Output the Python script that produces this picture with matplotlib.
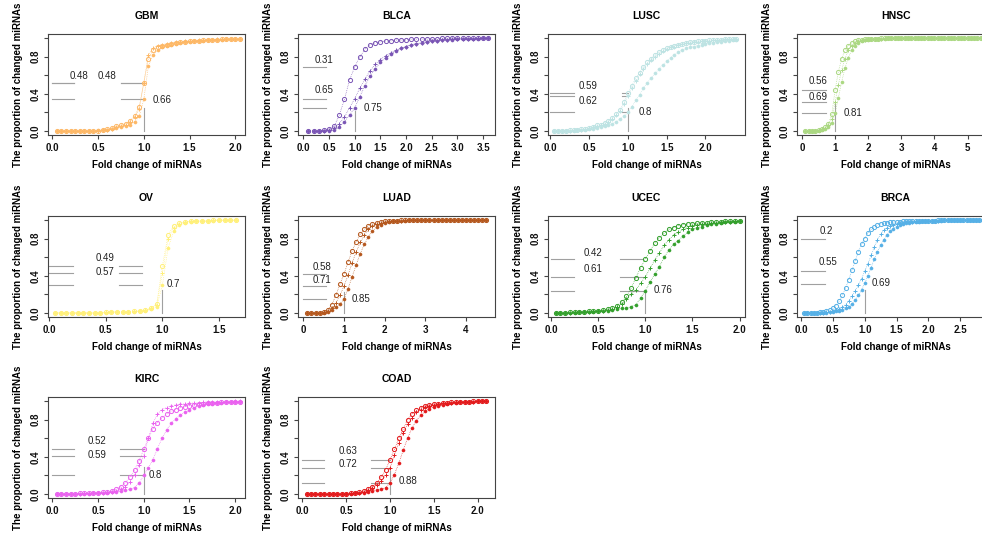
import numpy as np
import matplotlib.pyplot as plt

plt.rcParams['font.family'] = ['Liberation Sans', 'DejaVu Sans']

# cancer types, in reading order
panels = ["GBM", "BLCA", "LUSC", "HNSC", "OV", "LUAD", "UCEC", "BRCA", "KIRC", "COAD"]

# fold change grid of each panel
gbm_x = np.round(np.arange(0.05, 2.051, 0.05), 2)
blca_x = np.round(np.arange(0.1, 3.601, 0.1), 2)
lusc_x = np.round(np.arange(0.05, 2.401, 0.05), 2)
hnsc_x = np.round(np.arange(0.1, 5.601, 0.1), 2)
ov_x = np.round(np.arange(0.05, 1.651, 0.05), 2)
luad_x = np.round(np.arange(0.1, 4.501, 0.1), 2)
ucec_x = np.round(np.arange(0.05, 2.001, 0.05), 2)
brca_x = np.round(np.arange(0.05, 2.901, 0.05), 2)
kirc_x = np.round(np.arange(0.05, 2.051, 0.05), 2)
coad_x = np.round(np.arange(0.05, 2.101, 0.05), 2)

# proportion of changed miRNAs (three series per panel: circles, pluses, dots)
gbm_circle = [0, 0, 0, 0, 0, 0, 0, 0, 0, 0,
              0.01, 0.02, 0.03, 0.05, 0.06, 0.08, 0.11, 0.16, 0.26, 0.52,
              0.78, 0.87, 0.9, 0.92, 0.93, 0.94, 0.95, 0.96, 0.96, 0.97,
              0.97, 0.97, 0.98, 0.98, 0.98, 0.98, 0.99, 0.99, 0.99, 0.99, 0.99]
gbm_plus = [0, 0, 0, 0, 0, 0, 0, 0, 0, 0,
            0.01, 0.01, 0.02, 0.04, 0.05, 0.07, 0.1, 0.15, 0.24, 0.52,
            0.82, 0.89, 0.92, 0.93, 0.94, 0.95, 0.96, 0.96, 0.97, 0.97,
            0.97, 0.98, 0.98, 0.98, 0.98, 0.99, 0.99, 0.99, 0.99, 0.99, 0.99]
gbm_dot = [0, 0, 0, 0, 0, 0, 0, 0, 0, 0.01,
           0.01, 0.01, 0.02, 0.03, 0.04, 0.05, 0.07, 0.1, 0.16, 0.34,
           0.7, 0.82, 0.87, 0.9, 0.92, 0.93, 0.94, 0.95, 0.96, 0.96,
           0.97, 0.97, 0.97, 0.98, 0.98, 0.98, 0.98, 0.99, 0.99, 0.99, 0.99]

blca_circle = [0, 0, 0, 0.01, 0.02, 0.05, 0.17, 0.34, 0.55, 0.69,
               0.8, 0.88, 0.93, 0.95, 0.96, 0.97, 0.97, 0.98, 0.98, 0.98,
               0.99, 0.99, 0.99, 0.99, 0.99, 0.99, 1, 1, 1, 1,
               1, 1, 1, 1, 1, 1]
blca_plus = [0, 0, 0, 0, 0.01, 0.03, 0.08, 0.15, 0.25, 0.35,
             0.46, 0.56, 0.65, 0.72, 0.77, 0.81, 0.84, 0.87, 0.89, 0.91,
             0.93, 0.94, 0.95, 0.96, 0.97, 0.97, 0.98, 0.98, 0.99, 0.99,
             0.99, 0.99, 0.99, 1, 1, 1]
blca_dot = [0, 0, 0, 0, 0, 0.01, 0.04, 0.1, 0.17, 0.25,
            0.37, 0.49, 0.59, 0.67, 0.74, 0.79, 0.83, 0.86, 0.89, 0.91,
            0.93, 0.94, 0.95, 0.96, 0.97, 0.97, 0.98, 0.98, 0.98, 0.99,
            0.99, 0.99, 0.99, 0.99, 1, 1]

lusc_circle = [0, 0, 0, 0, 0.01, 0.01, 0.01, 0.02, 0.02,
               0.03, 0.04, 0.06, 0.07, 0.09, 0.11, 0.14, 0.18, 0.23, 0.31,
               0.41, 0.49, 0.57, 0.63, 0.69, 0.74, 0.78, 0.82, 0.85, 0.87,
               0.89, 0.91, 0.92, 0.93, 0.94, 0.95, 0.96, 0.96, 0.97, 0.97,
               0.97, 0.98, 0.98, 0.98, 0.98, 0.99, 0.99, 0.99, 0.99]
lusc_plus = [0, 0, 0, 0, 0, 0.01, 0.01, 0.01, 0.02,
             0.03, 0.04, 0.05, 0.06, 0.08, 0.1, 0.13, 0.17, 0.22, 0.29,
             0.38, 0.46, 0.54, 0.61, 0.67, 0.72, 0.76, 0.8, 0.83, 0.86,
             0.88, 0.9, 0.91, 0.93, 0.94, 0.95, 0.95, 0.96, 0.96, 0.97,
             0.97, 0.97, 0.98, 0.98, 0.98, 0.99, 0.99, 0.99, 0.99]
lusc_dot = [0, 0, 0, 0, 0, 0, 0.01, 0.01, 0.01,
            0.02, 0.02, 0.03, 0.04, 0.05, 0.06, 0.08, 0.1, 0.13, 0.16,
            0.2, 0.26, 0.33, 0.39, 0.46, 0.52, 0.57, 0.62, 0.67, 0.71,
            0.75, 0.79, 0.82, 0.85, 0.87, 0.89, 0.9, 0.91, 0.92, 0.93,
            0.94, 0.95, 0.95, 0.96, 0.96, 0.97, 0.97, 0.98, 0.98]

hnsc_circle = [0, 0, 0, 0, 0.01, 0.02, 0.04, 0.08, 0.18, 0.44,
               0.64, 0.78, 0.87, 0.92, 0.95, 0.97, 0.98, 0.98, 0.99, 0.99,
               0.99, 0.99, 0.99, 1, 1, 1, 1, 1, 1, 1,
               1, 1, 1, 1, 1, 1, 1, 1, 1, 1,
               1, 1, 1, 1, 1, 1, 1, 1, 1, 1,
               1, 1, 1, 1, 1, 1]
hnsc_plus = [0, 0, 0, 0, 0.01, 0.02, 0.03, 0.06, 0.13, 0.31,
             0.5, 0.66, 0.78, 0.87, 0.92, 0.95, 0.97, 0.98, 0.98, 0.99,
             0.99, 0.99, 0.99, 0.99, 1, 1, 1, 1, 1, 1,
             1, 1, 1, 1, 1, 1, 1, 1, 1, 1,
             1, 1, 1, 1, 1, 1, 1, 1, 1, 1,
             1, 1, 1, 1, 1, 1]
hnsc_dot = [0, 0, 0, 0, 0, 0.01, 0.02, 0.04, 0.09, 0.19,
            0.36, 0.53, 0.68, 0.79, 0.87, 0.92, 0.95, 0.97, 0.98, 0.98,
            0.99, 0.99, 0.99, 0.99, 0.99, 1, 1, 1, 1, 1,
            1, 1, 1, 1, 1, 1, 1, 1, 1, 1,
            1, 1, 1, 1, 1, 1, 1, 1, 1, 1,
            1, 1, 1, 1, 1, 1]

ov_circle = [0, 0, 0, 0, 0, 0, 0, 0, 0, 0.01,
             0.01, 0.01, 0.01, 0.01, 0.02, 0.02, 0.03, 0.05, 0.1, 0.51,
             0.84, 0.94, 0.97, 0.98, 0.99, 0.99, 0.99, 0.99, 1, 1,
             1, 1, 1]
ov_plus = [0, 0, 0, 0, 0, 0, 0, 0, 0, 0.01,
           0.01, 0.01, 0.01, 0.01, 0.02, 0.02, 0.03, 0.05, 0.09, 0.43,
           0.8, 0.92, 0.96, 0.98, 0.99, 0.99, 0.99, 0.99, 1, 1,
           1, 1, 1]
ov_dot = [0, 0, 0, 0, 0, 0, 0, 0, 0, 0,
          0.01, 0.01, 0.01, 0.01, 0.01, 0.02, 0.02, 0.04, 0.07, 0.3,
          0.7, 0.88, 0.95, 0.97, 0.98, 0.99, 0.99, 0.99, 0.99, 1,
          1, 1, 1]

luad_circle = [0, 0, 0, 0, 0.01, 0.03, 0.09, 0.19, 0.31, 0.42,
               0.55, 0.67, 0.77, 0.85, 0.9, 0.94, 0.96, 0.97, 0.98, 0.99,
               0.99, 0.99, 0.99, 1, 1, 1, 1, 1, 1, 1,
               1, 1, 1, 1, 1, 1, 1, 1, 1, 1,
               1, 1, 1, 1, 1]
luad_plus = [0, 0, 0, 0, 0.01, 0.02, 0.05, 0.11, 0.19, 0.29,
             0.41, 0.54, 0.66, 0.76, 0.84, 0.9, 0.94, 0.96, 0.97, 0.98,
             0.99, 0.99, 0.99, 0.99, 1, 1, 1, 1, 1, 1,
             1, 1, 1, 1, 1, 1, 1, 1, 1, 1,
             1, 1, 1, 1, 1]
luad_dot = [0, 0, 0, 0, 0, 0.01, 0.03, 0.06, 0.1, 0.15,
            0.26, 0.39, 0.52, 0.64, 0.74, 0.82, 0.88, 0.93, 0.95, 0.97,
            0.98, 0.99, 0.99, 0.99, 0.99, 1, 1, 1, 1, 1,
            1, 1, 1, 1, 1, 1, 1, 1, 1, 1,
            1, 1, 1, 1, 1]

ucec_circle = [0, 0, 0, 0.01, 0.01, 0.01, 0.01, 0.02, 0.02, 0.02,
               0.03, 0.04, 0.05, 0.08, 0.12, 0.18, 0.27, 0.38, 0.49, 0.58,
               0.67, 0.75, 0.81, 0.86, 0.9, 0.92, 0.94, 0.95, 0.96, 0.96,
               0.97, 0.97, 0.97, 0.98, 0.98, 0.98, 0.99, 0.99, 0.99, 0.99]
ucec_plus = [0, 0, 0, 0, 0.01, 0.01, 0.01, 0.01, 0.02, 0.02,
             0.02, 0.03, 0.04, 0.06, 0.1, 0.15, 0.2, 0.25, 0.32, 0.39,
             0.48, 0.57, 0.65, 0.73, 0.79, 0.84, 0.87, 0.9, 0.92, 0.94,
             0.95, 0.96, 0.96, 0.97, 0.97, 0.98, 0.98, 0.98, 0.99, 0.99]
ucec_dot = [0, 0, 0, 0, 0, 0.01, 0.01, 0.01, 0.01, 0.02,
            0.02, 0.02, 0.03, 0.04, 0.05, 0.05, 0.07, 0.09, 0.16, 0.24,
            0.33, 0.42, 0.5, 0.6, 0.68, 0.74, 0.78, 0.83, 0.87, 0.9,
            0.92, 0.93, 0.95, 0.96, 0.96, 0.97, 0.98, 0.98, 0.98, 0.99]

brca_circle = [0, 0, 0, 0, 0, 0.01, 0.01, 0.02, 0.03, 0.05,
               0.08, 0.13, 0.19, 0.27, 0.36, 0.46, 0.56, 0.66, 0.74, 0.8,
               0.86, 0.9, 0.93, 0.95, 0.96, 0.97, 0.97, 0.98, 0.98, 0.98,
               0.98, 0.99, 0.99, 0.99, 0.99, 0.99, 0.99, 0.99, 0.99, 0.99,
               0.99, 0.99, 1, 1, 1, 1, 1, 1, 1, 1,
               1, 1, 1, 1, 1, 1, 1, 1]
brca_plus = [0, 0, 0, 0, 0, 0, 0, 0.01, 0.01, 0.02,
             0.03, 0.04, 0.06, 0.09, 0.13, 0.18, 0.24, 0.3, 0.37, 0.45,
             0.53, 0.62, 0.71, 0.79, 0.85, 0.89, 0.92, 0.94, 0.95, 0.96,
             0.97, 0.97, 0.98, 0.98, 0.98, 0.99, 0.99, 0.99, 0.99, 0.99,
             0.99, 0.99, 0.99, 1, 1, 1, 1, 1, 1, 1,
             1, 1, 1, 1, 1, 1, 1, 1]
brca_dot = [0, 0, 0, 0, 0, 0, 0, 0, 0.01, 0.01,
            0.02, 0.02, 0.03, 0.05, 0.07, 0.1, 0.14, 0.19, 0.25, 0.32,
            0.4, 0.49, 0.58, 0.66, 0.73, 0.79, 0.84, 0.88, 0.91, 0.93,
            0.95, 0.96, 0.97, 0.97, 0.98, 0.98, 0.98, 0.99, 0.99, 0.99,
            0.99, 0.99, 0.99, 0.99, 1, 1, 1, 1, 1, 1,
            1, 1, 1, 1, 1, 1, 1, 1]

kirc_circle = [0, 0, 0, 0, 0, 0.01, 0.01, 0.01, 0.01, 0.01,
               0.02, 0.02, 0.03, 0.05, 0.08, 0.12, 0.18, 0.26, 0.36, 0.48,
               0.6, 0.7, 0.77, 0.82, 0.86, 0.89, 0.91, 0.93, 0.94, 0.95,
               0.96, 0.97, 0.97, 0.98, 0.98, 0.98, 0.99, 0.99, 0.99, 0.99, 0.99]
kirc_plus = [0, 0, 0, 0, 0, 0, 0.01, 0.01, 0.01, 0.01,
             0.01, 0.02, 0.02, 0.03, 0.05, 0.08, 0.13, 0.21, 0.31, 0.41,
             0.6, 0.76, 0.86, 0.91, 0.93, 0.95, 0.96, 0.97, 0.97, 0.98,
             0.98, 0.98, 0.99, 0.99, 0.99, 0.99, 0.99, 0.99, 0.99, 1, 1]
kirc_dot = [0, 0, 0, 0, 0, 0, 0, 0, 0.01, 0.01,
            0.01, 0.01, 0.02, 0.02, 0.03, 0.04, 0.05, 0.07, 0.12, 0.2,
            0.28, 0.37, 0.49, 0.6, 0.69, 0.76, 0.81, 0.85, 0.88, 0.9,
            0.93, 0.95, 0.96, 0.97, 0.97, 0.98, 0.98, 0.99, 0.99, 0.99, 0.99]

coad_circle = [0, 0, 0, 0, 0, 0, 0, 0, 0, 0,
               0.01, 0.01, 0.02, 0.03, 0.05, 0.08, 0.12, 0.18, 0.26, 0.37,
               0.48, 0.6, 0.7, 0.8, 0.86, 0.9, 0.93, 0.95, 0.96, 0.97,
               0.97, 0.98, 0.98, 0.99, 0.99, 0.99, 0.99, 0.99, 1, 1,
               1, 1]
coad_plus = [0, 0, 0, 0, 0, 0, 0, 0, 0, 0,
             0.01, 0.01, 0.01, 0.02, 0.04, 0.07, 0.1, 0.14, 0.2, 0.28,
             0.42, 0.55, 0.66, 0.75, 0.82, 0.88, 0.91, 0.94, 0.95, 0.96,
             0.97, 0.98, 0.98, 0.98, 0.99, 0.99, 0.99, 0.99, 0.99, 1,
             1, 1]
coad_dot = [0, 0, 0, 0, 0, 0, 0, 0, 0, 0,
            0, 0.01, 0.01, 0.01, 0.02, 0.03, 0.04, 0.05, 0.07, 0.12,
            0.21, 0.33, 0.47, 0.6, 0.71, 0.79, 0.85, 0.89, 0.92, 0.94,
            0.95, 0.96, 0.97, 0.98, 0.98, 0.99, 0.99, 0.99, 0.99, 1,
            1, 1]

# proportion above fold change 1 (annotation labels)
gbm_up = [0.48, 0.48, 0.66]
blca_up = [0.31, 0.65, 0.75]
lusc_up = [0.59, 0.62, 0.8]
hnsc_up = [0.56, 0.69, 0.81]
ov_up = [0.49, 0.57, 0.7]
luad_up = [0.58, 0.71, 0.85]
ucec_up = [0.42, 0.61, 0.76]
brca_up = [0.2, 0.55, 0.69]
kirc_up = [0.52, 0.59, 0.8]
coad_up = [0.63, 0.72, 0.88]

xticks = {
    "GBM": [0, 0.5, 1, 1.5, 2], "BLCA": [0, 0.5, 1, 1.5, 2, 2.5, 3, 3.5],
    "LUSC": [0, 0.5, 1, 1.5, 2], "HNSC": [0, 1, 2, 3, 4, 5],
    "OV": [0, 0.5, 1, 1.5], "LUAD": [0, 1, 2, 3, 4],
    "UCEC": [0, 0.5, 1, 1.5, 2], "BRCA": [0, 0.5, 1, 1.5, 2, 2.5],
    "KIRC": [0, 0.5, 1, 1.5, 2], "COAD": [0, 0.5, 1, 1.5, 2],
}

data = {
    "GBM": (gbm_x, gbm_circle, gbm_plus, gbm_dot, gbm_up),
    "BLCA": (blca_x, blca_circle, blca_plus, blca_dot, blca_up),
    "LUSC": (lusc_x, lusc_circle, lusc_plus, lusc_dot, lusc_up),
    "HNSC": (hnsc_x, hnsc_circle, hnsc_plus, hnsc_dot, hnsc_up),
    "OV": (ov_x, ov_circle, ov_plus, ov_dot, ov_up),
    "LUAD": (luad_x, luad_circle, luad_plus, luad_dot, luad_up),
    "UCEC": (ucec_x, ucec_circle, ucec_plus, ucec_dot, ucec_up),
    "BRCA": (brca_x, brca_circle, brca_plus, brca_dot, brca_up),
    "KIRC": (kirc_x, kirc_circle, kirc_plus, kirc_dot, kirc_up),
    "COAD": (coad_x, coad_circle, coad_plus, coad_dot, coad_up),
}

# style / layout per panel
colors = {"GBM": "#fdb866", "BLCA": "#7a55b5", "LUSC": "#bde3e3", "HNSC": "#abd882",
          "OV": "#fff07a", "LUAD": "#b5581e", "UCEC": "#33a02c", "BRCA": "#56b0e6",
          "KIRC": "#ea62ef", "COAD": "#e31a1c"}
xlims = {"GBM": (-0.047, 2.106), "BLCA": (-0.103, 3.73), "LUSC": (-0.03, 2.51),
         "HNSC": (-0.15, 5.8), "OV": (-0.011, 1.73), "LUAD": (-0.13, 4.71),
         "UCEC": (-0.032, 2.057), "BRCA": (-0.063, 3.03), "KIRC": (-0.047, 2.108),
         "COAD": (-0.049, 2.197)}
label_pos = {
    "GBM": [(0.29, 0.59), (0.6, 0.59), (1.2, 0.335)],
    "BLCA": [(0.4, 0.77), (0.4, 0.44), (1.35, 0.245)],
    "LUSC": [(0.49, 0.49), (0.49, 0.32), (1.23, 0.2)],
    "HNSC": [(0.5, 0.54), (0.5, 0.365), (1.55, 0.19)],
    "OV": [(0.49, 0.59), (0.49, 0.44), (1.1, 0.31)],
    "LUAD": [(0.45, 0.5), (0.45, 0.355), (1.43, 0.155)],
    "UCEC": [(0.45, 0.65), (0.45, 0.47), (1.19, 0.25)],
    "BRCA": [(0.39, 0.88), (0.42, 0.55), (1.25, 0.32)],
    "KIRC": [(0.49, 0.57), (0.49, 0.425), (1.13, 0.205)],
    "COAD": [(0.52, 0.465), (0.52, 0.32), (1.21, 0.14)],
}
segments = {
    "GBM": [(0, 0.24), (0.75, 1.0)], "BLCA": [(0, 0.44)],
    "LUSC": [(0, 0.31), (0.92, 1.0)], "HNSC": [(0, 0.72)],
    "OV": [(0, 0.21), (0.62, 0.82)], "LUAD": [(0, 0.57)],
    "UCEC": [(0, 0.24), (0.73, 0.98)], "BRCA": [(0, 0.37)],
    "KIRC": [(0, 0.24), (0.74, 1.0)], "COAD": [(0, 0.25), (0.78, 1.0)],
}
vtop = {"GBM": 0.25, "BLCA": 0.22, "LUSC": 0.25, "HNSC": 0.3, "OV": 0.245,
        "LUAD": 0.23, "UCEC": 0.25, "BRCA": 0.245, "KIRC": 0.29, "COAD": 0.25}

W, H = 982, 533
lefts = [48, 298, 548, 797]
tops = [34, 216, 397]
aw, ah = 197, 101
frame = "#444444"
grey = "#a0a0a0"

fig = plt.figure(figsize=(W / 100, H / 100), dpi=100)

for i, name in enumerate(panels):
    r, c = divmod(i, 4)
    ax = fig.add_axes([lefts[c] / W, 1 - (tops[r] + ah) / H, aw / W, ah / H])
    x, yc, yp, yd, up = data[name]
    col = colors[name]

    # reference lines at fold change 1
    for k, u in enumerate(up):
        for x0, x1 in segments[name]:
            ax.plot([x0, x1], [1 - u, 1 - u], color=grey, lw=0.8, zorder=1)
        tx, ty = label_pos[name][k]
        ax.text(tx, ty, str(u), fontsize=7, color="#222222", ha="center", va="center")
    ax.plot([1, 1], [0, vtop[name]], color=grey, lw=0.8, zorder=1)

    ax.plot(x, yc, ls=":", lw=0.5, color=col, marker="o", mfc="none", ms=3.0, mew=0.7, zorder=3)
    ax.plot(x, yp, ls=":", lw=0.5, color=col, marker="+", ms=3.4, mew=0.7, zorder=3)
    ax.plot(x, yd, ls=":", lw=0.5, color=col, marker="o", ms=2.2, mew=0.4, zorder=3)

    ax.set_xlim(*xlims[name])
    ax.set_ylim(-0.043, 1.045)
    ax.set_xticks(xticks[name])
    ax.set_xticklabels([f"{t:.1f}" if max(xticks[name]) < 3 or name == "BLCA" else f"{t:g}"
                        for t in xticks[name]])
    ax.set_yticks([0, 0.2, 0.4, 0.6, 0.8, 1.0])
    ax.set_yticklabels(["0.0", "", "0.4", "", "0.8", ""])
    ax.tick_params(axis="both", length=3, width=0.8, color=frame, labelsize=7,
                   labelcolor="#111111")
    ax.tick_params(axis="x", pad=2.5)
    ax.tick_params(axis="y", pad=2, labelrotation=90)
    for lab in ax.get_xticklabels() + ax.get_yticklabels():
        lab.set_fontweight("bold")
    for lab in ax.get_yticklabels():
        lab.set_va("center")
    for sp in ax.spines.values():
        sp.set_color(frame)
        sp.set_linewidth(0.8)

    ax.set_title(name, fontsize=7.5, fontweight="bold", y=1.178, va="center", pad=0)
    ax.set_xlabel("Fold change of miRNAs", fontsize=7, fontweight="bold", va="center")
    ax.xaxis.set_label_coords(0.5, -0.30)
    ax.set_ylabel("The proportion of changed miRNAs", fontsize=7, fontweight="bold",
                  va="center")
    ax.yaxis.set_label_coords(-0.152, 0.5)

fig.savefig("out.png", dpi=100)
